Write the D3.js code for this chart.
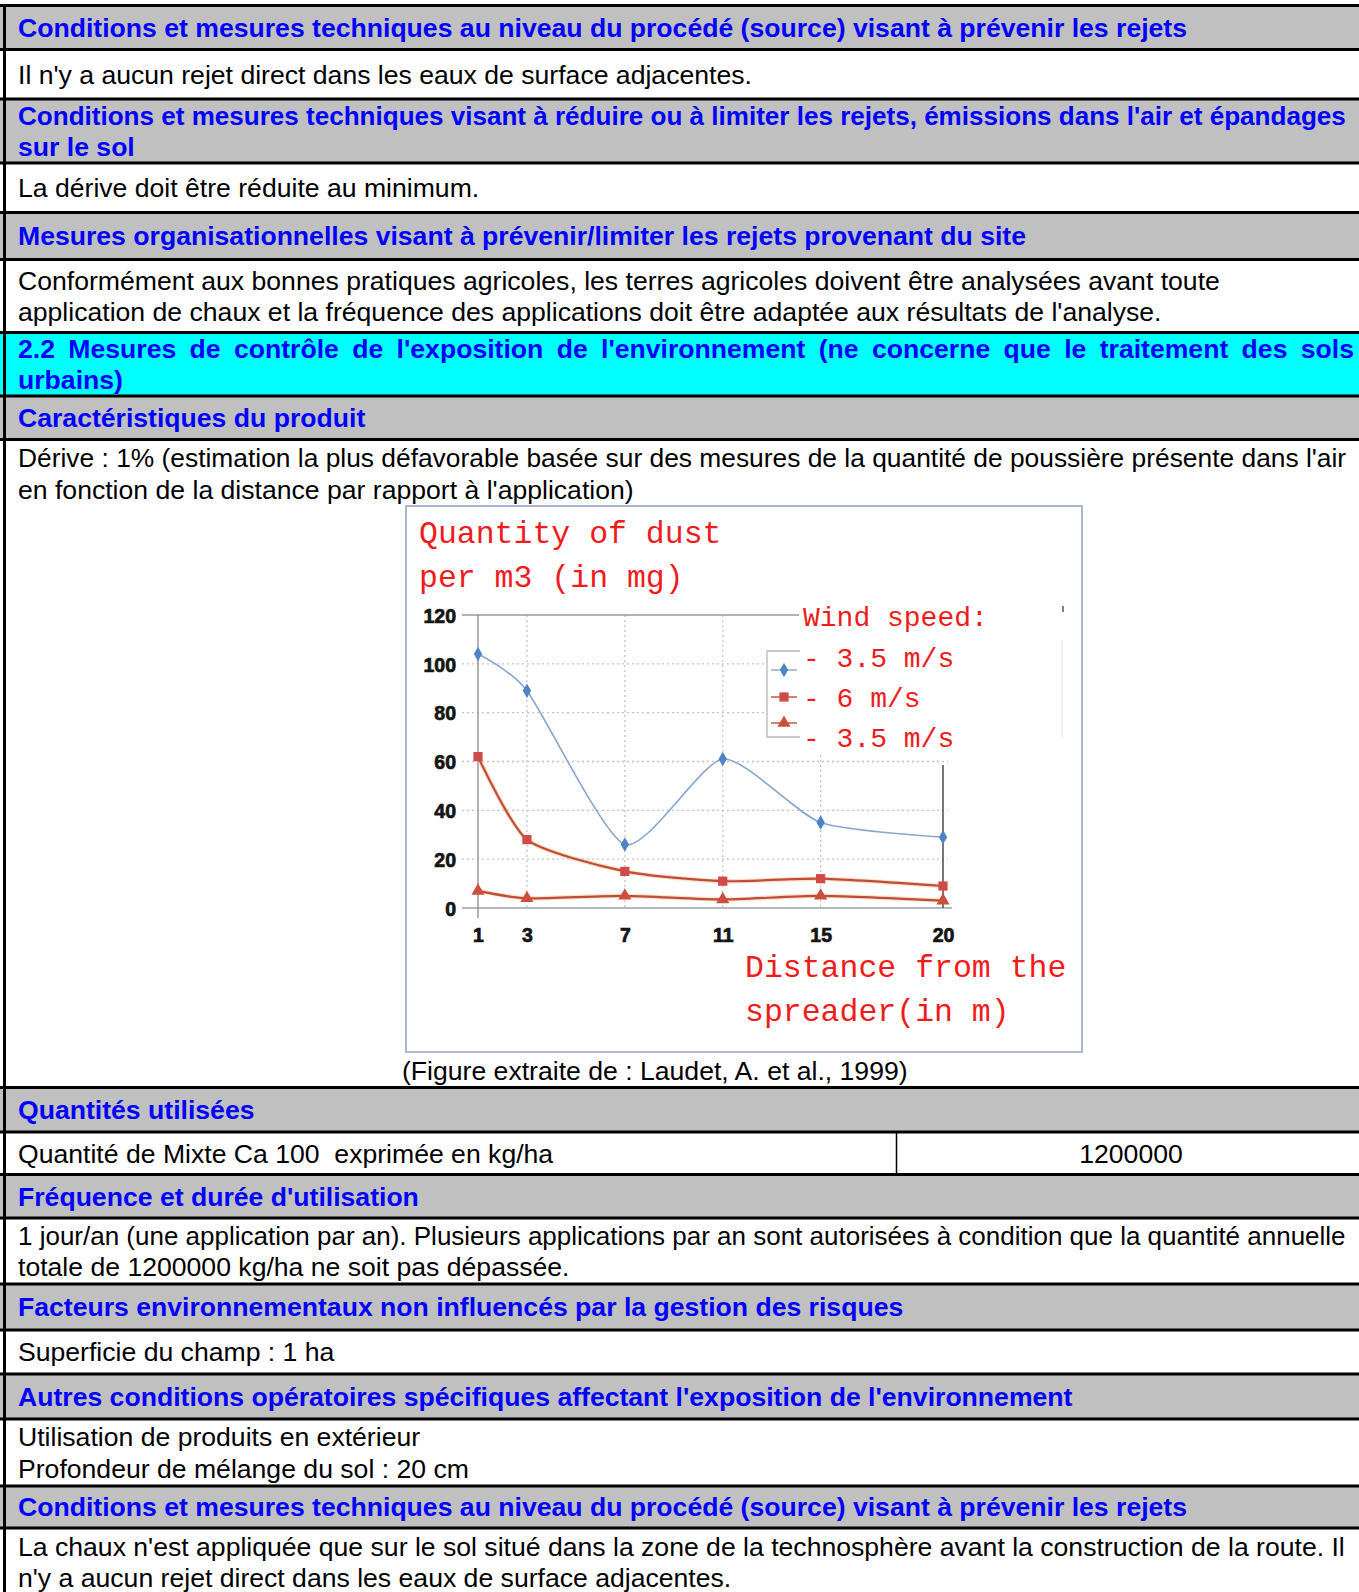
<!DOCTYPE html>
<meta charset="utf-8">
<head>
  <title>Mesures de contrôle de l'exposition</title>
  <script src="https://cdnjs.cloudflare.com/ajax/libs/d3/7.8.5/d3.min.js"></script>
  <style>
    body {
      margin: 0;
      background: white;
    }
    svg text {
      font-family: "Liberation Sans", Arial, sans-serif;
    }
  </style>
</head>
<body>
  <div id="page"></div>
  <script>
  // chart values
  var distances = [1, 3, 7, 11, 15, 20];
  var dust35 = [104, 89, 26, 61, 35, 29];
  var dust6 = [62, 28, 15, 11, 12, 9];
  var dust35b = [7, 4, 5, 3.5, 5, 3];
  var yTicks = [0, 20, 40, 60, 80, 100, 120];
  var gridY = [20, 40, 60, 80, 100];
  var gridX = [3, 7, 11, 15];
  var legendTitle = "Wind speed:";
  var legendLabels = ["- 3.5 m/s", "- 6 m/s", "- 3.5 m/s"];
  var chartTitle = ["Quantity of dust", "per m3 (in mg)"];
  var xTitle = ["Distance from the", "spreader(in m)"];
  var caption = "(Figure extraite de : Laudet, A. et al., 1999)";

  // table rows: h = grey heading, c = cyan heading, t = plain text
  var rows = [
    {kind: "h", lines: ["Conditions et mesures techniques au niveau du procédé (source) visant à prévenir les rejets"]},
    {kind: "t", lines: ["Il n'y a aucun rejet direct dans les eaux de surface adjacentes."]},
    {kind: "h", lines: ["Conditions et mesures techniques visant à réduire ou à limiter les rejets, émissions dans l'air et épandages", "sur le sol"]},
    {kind: "t", lines: ["La dérive doit être réduite au minimum."]},
    {kind: "h", lines: ["Mesures organisationnelles visant à prévenir/limiter les rejets provenant du site"]},
    {kind: "t", lines: ["Conformément aux bonnes pratiques agricoles, les terres agricoles doivent être analysées avant toute", "application de chaux et la fréquence des applications doit être adaptée aux résultats de l'analyse."]},
    {kind: "c", lines: ["2.2 Mesures de contrôle de l'exposition de l'environnement (ne concerne que le traitement des sols", "urbains)"], justify: true},
    {kind: "h", lines: ["Caractéristiques du produit"]},
    {kind: "t", lines: ["Dérive : 1% (estimation la plus défavorable basée sur des mesures de la quantité de poussière présente dans l'air", "en fonction de la distance par rapport à l'application)"], chart: true},
    {kind: "h", lines: ["Quantités utilisées"]},
    {kind: "t", lines: ["Quantité de Mixte Ca 100  exprimée en kg/ha"], value: "1200000"},
    {kind: "h", lines: ["Fréquence et durée d'utilisation"]},
    {kind: "t", lines: ["1 jour/an (une application par an). Plusieurs applications par an sont autorisées à condition que la quantité annuelle", "totale de 1200000 kg/ha ne soit pas dépassée."]},
    {kind: "h", lines: ["Facteurs environnementaux non influencés par la gestion des risques"]},
    {kind: "t", lines: ["Superficie du champ : 1 ha"]},
    {kind: "h", lines: ["Autres conditions opératoires spécifiques affectant l'exposition de l'environnement"]},
    {kind: "t", lines: ["Utilisation de produits en extérieur", "Profondeur de mélange du sol : 20 cm"]},
    {kind: "h", lines: ["Conditions et mesures techniques au niveau du procédé (source) visant à prévenir les rejets"]},
    {kind: "t", lines: ["La chaux n'est appliquée que sur le sol situé dans la zone de la technosphère avant la construction de la route. Il", "n'y a aucun rejet direct dans les eaux de surface adjacentes."]}
  ];

  var WIDTH = 1359, HEIGHT = 1592;
  var borders = [5.5, 49.5, 99, 163, 212.5, 259.5, 332.5, 396, 439.5, 1087.5, 1132, 1174.5, 1218, 1284, 1330, 1374, 1419, 1486, 1528, 1596];
  var fills = {h: "#c0c0c0", c: "#00ffff", t: "#ffffff"};
  var FS = 26.6, LH = 31.5, TX = 18, MAXW = 1328;

  var svg = d3.select("#page").append("svg")
    .attr("width", WIDTH)
    .attr("height", HEIGHT)
    .style("display", "block");

  svg.append("rect").attr("width", WIDTH).attr("height", HEIGHT).attr("fill", "white");

  rows.forEach(function(r, i) {
    var top = borders[i], bot = borders[i + 1];
    svg.append("rect")
      .attr("x", 0).attr("y", top)
      .attr("width", WIDTH).attr("height", bot - top)
      .attr("fill", fills[r.kind]);

    var n = r.lines.length;
    var mid = (top + bot) / 2;
    r.lines.forEach(function(line, j) {
      var base = mid + (j - (n - 1) / 2) * LH + 9.3;
      if (r.chart) base = top + 27.5 + j * LH;
      var t = svg.append("text")
        .attr("x", TX).attr("y", base)
        .attr("font-size", FS)
        .attr("fill", r.kind == "t" ? "#000" : "#0000ff")
        .attr("font-weight", r.kind == "t" ? "normal" : "bold")
        .style("white-space", "pre")
        .text(line);
      var len = t.node().getComputedTextLength();
      if (r.justify && j == 0) {
        justify(t, line, TX, 1354);
      } else if (len > MAXW) {
        // the source table runs a little wider than the page: shrink the long lines a bit
        t.attr("font-size", FS * MAXW / len);
      }
    });

    if (r.value) {
      svg.append("line")
        .attr("x1", 896.5).attr("x2", 896.5)
        .attr("y1", top).attr("y2", bot)
        .attr("stroke", "#000").attr("stroke-width", 1.5);
      svg.append("text")
        .attr("x", 1131).attr("y", mid + 9.3)
        .attr("text-anchor", "middle")
        .attr("font-size", FS)
        .text(r.value);
    }
  });

  // black row separators and left edge
  borders.forEach(function(b) {
    svg.append("line")
      .attr("x1", 0).attr("x2", WIDTH)
      .attr("y1", b).attr("y2", b)
      .attr("stroke", "#000").attr("stroke-width", 3);
  });
  svg.append("line")
    .attr("x1", 4.5).attr("x2", 4.5)
    .attr("y1", 4).attr("y2", HEIGHT)
    .attr("stroke", "#000").attr("stroke-width", 3);

  // spread the words of a line over [x0, x1]
  function justify(t, line, x0, x1) {
    var words = line.split(" ");
    t.text(null);
    var widths = words.map(function(w) {
      var tmp = svg.append("text").attr("font-size", FS).attr("font-weight", "bold").text(w);
      var wd = tmp.node().getComputedTextLength();
      tmp.remove();
      return wd;
    });
    var gap = (x1 - x0 - d3.sum(widths)) / (words.length - 1);
    var xx = x0;
    words.forEach(function(w, k) {
      t.append("tspan").attr("x", xx).text(w);
      xx += widths[k] + gap;
    });
  }

  // ---- embedded figure ----
  var fig = svg.append("g");
  fig.append("rect")
    .attr("x", 406).attr("y", 506)
    .attr("width", 676).attr("height", 546)
    .attr("fill", "white")
    .attr("stroke", "#a9b9cf")
    .attr("stroke-width", 2);

  var x = d3.scaleLinear().domain([1, 20]).range([478, 943]);
  var y = d3.scaleLinear().domain([0, 120]).range([908, 615]);

  // dotted grid
  fig.selectAll(".gy").data(gridY).enter().append("line")
    .attr("x1", 462).attr("x2", 948)
    .attr("y1", function(d) { return y(d); })
    .attr("y2", function(d) { return y(d); })
    .attr("stroke", "#c4c4c4").attr("stroke-width", 1.3)
    .attr("stroke-dasharray", "2,3");
  fig.selectAll(".gx").data(gridX).enter().append("line")
    .attr("x1", function(d) { return x(d); })
    .attr("x2", function(d) { return x(d); })
    .attr("y1", y(120)).attr("y2", y(0))
    .attr("stroke", "#c4c4c4").attr("stroke-width", 1.3)
    .attr("stroke-dasharray", "2,3");

  fig.append("line")
    .attr("x1", 462).attr("x2", 799)
    .attr("y1", y(120)).attr("y2", y(120))
    .attr("stroke", "#9a9a9a").attr("stroke-width", 1.3);
  fig.append("line")
    .attr("x1", 462).attr("x2", 952)
    .attr("y1", y(0)).attr("y2", y(0))
    .attr("stroke", "#b0b8c4").attr("stroke-width", 2);
  fig.append("line")
    .attr("x1", x(1)).attr("x2", x(1))
    .attr("y1", y(120)).attr("y2", y(0) + 10)
    .attr("stroke", "#8a8a8a").attr("stroke-width", 1.3);

  // legend backgrounds hide the grid
  fig.append("rect")
    .attr("x", 800).attr("y", 596).attr("width", 255).attr("height", 156)
    .attr("fill", "white");
  fig.append("rect")
    .attr("x", 767).attr("y", 651).attr("width", 40).attr("height", 86)
    .attr("fill", "white");
  fig.append("path")
    .attr("d", "M800,651H767V737H800")
    .attr("fill", "none").attr("stroke", "#b8b8b8").attr("stroke-width", 1.3);
  fig.append("path")
    .attr("d", "M1062,640V737")
    .attr("fill", "none").attr("stroke", "#e4e4e4").attr("stroke-width", 1.2);
  fig.append("path")
    .attr("d", "M1063,606V612")
    .attr("fill", "none").attr("stroke", "#555").attr("stroke-width", 1.5);
  fig.append("line")
    .attr("x1", x(20)).attr("x2", x(20))
    .attr("y1", 765).attr("y2", y(0))
    .attr("stroke", "#4a4a4a").attr("stroke-width", 1.5);

  // axes labels
  var yAxis = fig.append("g")
    .attr("transform", "translate(456,1)")
    .call(d3.axisLeft(y).tickValues(yTicks).tickSize(0).tickPadding(0));
  var xAxis = fig.append("g")
    .attr("transform", "translate(0,928.5)")
    .call(d3.axisBottom(x).tickValues(distances).tickSize(0).tickPadding(0));
  [yAxis, xAxis].forEach(function(a) {
    a.select(".domain").remove();
    a.selectAll("text")
      .attr("fill", "#151515")
      .attr("stroke", "#151515").attr("stroke-width", 0.7)
      .style("font-family", "'Liberation Sans', Arial, sans-serif")
      .style("font-weight", "bold")
      .style("font-size", "19.5px");
  });

  // series
  var series = [
    {values: dust35, line: "#86a6d0", width: 1.6, fill: "#4f84c4", sym: d3.symbolDiamond, size: 60},
    {values: dust6, line: "#c04a40", width: 2.2, fill: "#d04a4a", sym: d3.symbolSquare, size: 85, halo: true},
    {values: dust35b, line: "#c04a40", width: 2.2, fill: "#cc4e3e", sym: d3.symbolTriangle, size: 75, halo: true}
  ];
  var lineGen = d3.line()
    .x(function(d) { return x(d[0]); })
    .y(function(d) { return y(d[1]); })
    .curve(d3.curveCardinal.tension(0.35));

  series.forEach(function(s) {
    var pts = distances.map(function(d, i) { return [d, s.values[i]]; });
    if (s.halo) {
      fig.append("path").attr("d", lineGen(pts))
        .attr("fill", "none").attr("stroke", "#f2c070")
        .attr("stroke-width", 4.5).attr("opacity", 0.45);
    }
    fig.append("path").attr("d", lineGen(pts))
      .attr("fill", "none").attr("stroke", s.line)
      .attr("stroke-width", s.width);
    fig.selectAll(null).data(pts).enter().append("path")
      .attr("d", d3.symbol().type(s.sym).size(s.size))
      .attr("transform", function(d) { return "translate(" + x(d[0]) + "," + y(d[1]) + ")"; })
      .attr("fill", s.fill);
  });

  // legend markers
  var legendY = [670, 697, 723];
  series.forEach(function(s, i) {
    fig.append("line")
      .attr("x1", 771).attr("x2", 797)
      .attr("y1", legendY[i]).attr("y2", legendY[i])
      .attr("stroke", s.line).attr("stroke-width", 1.4);
    fig.append("path")
      .attr("d", d3.symbol().type(s.sym).size(s.size))
      .attr("transform", "translate(784," + legendY[i] + ")")
      .attr("fill", s.fill);
  });

  // red annotations written over the figure
  var RED = "#f01c1c";
  function mono(txt, xx, yy, fs) {
    fig.append("text")
      .attr("x", xx).attr("y", yy)
      .attr("fill", RED)
      .style("font-family", "'Liberation Mono', 'Courier New', monospace")
      .style("font-size", fs + "px")
      .style("white-space", "pre")
      .text(txt);
  }
  mono(chartTitle[0], 419, 543, 31.5);
  mono(chartTitle[1], 419, 587, 31.5);
  mono(legendTitle, 803, 626, 28);
  legendLabels.forEach(function(l, i) {
    mono(l, 803, 667 + i * 40, 28);
  });
  mono(xTitle[0], 745, 977, 31.5);
  mono(xTitle[1], 745, 1021, 31.5);

  svg.append("text")
    .attr("x", 402).attr("y", 1080)
    .attr("font-size", FS)
    .text(caption);
  </script>
</body>
